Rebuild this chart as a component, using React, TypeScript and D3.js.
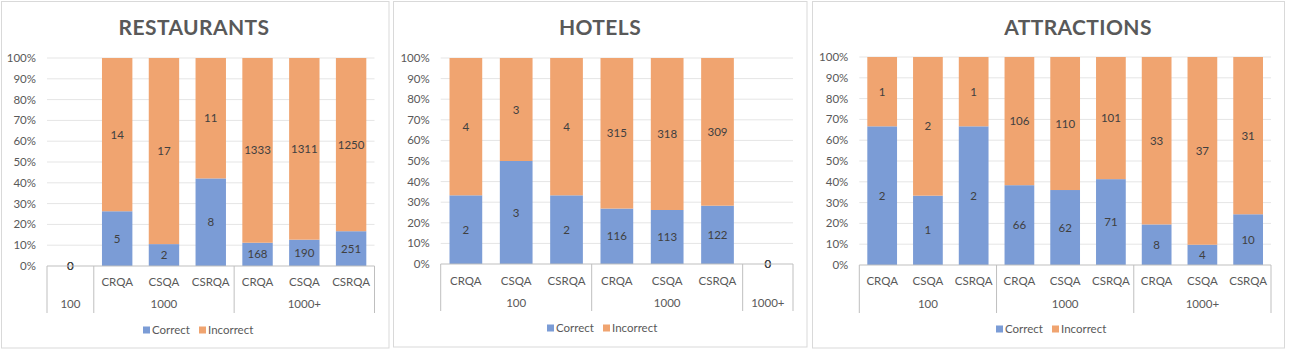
import React from 'react';
import * as d3 from 'd3';

// Restaurants
const restaurantGroup = ['100', '1000', '1000', '1000', '1000+', '1000+', '1000+'];
const restaurantMethod = ['', 'CRQA', 'CSQA', 'CSRQA', 'CRQA', 'CSQA', 'CSRQA'];
const restaurantCorrect = [0, 5, 2, 8, 168, 190, 251];
const restaurantIncorrect = [0, 14, 17, 11, 1333, 1311, 1250];

// Hotels
const hotelGroup = ['100', '100', '100', '1000', '1000', '1000', '1000+'];
const hotelMethod = ['CRQA', 'CSQA', 'CSRQA', 'CRQA', 'CSQA', 'CSRQA', ''];
const hotelCorrect = [2, 3, 2, 116, 113, 122, 0];
const hotelIncorrect = [4, 3, 4, 315, 318, 309, 0];

// Attractions
const attractionGroup = ['100', '100', '100', '1000', '1000', '1000', '1000+', '1000+', '1000+'];
const attractionMethod = ['CRQA', 'CSQA', 'CSRQA', 'CRQA', 'CSQA', 'CSRQA', 'CRQA', 'CSQA', 'CSRQA'];
const attractionCorrect = [2, 1, 2, 66, 62, 71, 8, 4, 10];
const attractionIncorrect = [1, 2, 1, 106, 110, 101, 33, 37, 31];

const yTicks = [0, 0.1, 0.2, 0.3, 0.4, 0.5, 0.6, 0.7, 0.8, 0.9, 1];
const seriesNames = ['Correct', 'Incorrect'];

const BLUE = '#7b9cd6';
const ORANGE = '#f0a470';
const FONT = 'Lato, "Open Sans", sans-serif';

const panels = [
  {
    title: 'RESTAURANTS', group: restaurantGroup, method: restaurantMethod,
    correct: restaurantCorrect, incorrect: restaurantIncorrect,
    frame: [1.5, 1.5, 389, 348], plot: [47, 374.5, 58, 266], titleX: 194,
    catY: 282, groupY: 304, divBottom: 313, legendY: 330, legendX: 143,
  },
  {
    title: 'HOTELS', group: hotelGroup, method: hotelMethod,
    correct: hotelCorrect, incorrect: hotelIncorrect,
    frame: [393.5, 1.5, 807, 347], plot: [440.7, 793, 58, 264], titleX: 600,
    catY: 281, groupY: 303, divBottom: 311, legendY: 328, legendX: 547,
  },
  {
    title: 'ATTRACTIONS', group: attractionGroup, method: attractionMethod,
    correct: attractionCorrect, incorrect: attractionIncorrect,
    frame: [812.5, 1.5, 1284.5, 348], plot: [859.3, 1271, 57, 265], titleX: 1078,
    catY: 281, groupY: 304, divBottom: 313, legendY: 329, legendX: 996,
  },
];

const Panel = ({ p }: { p: any }) => {
  const [x0, x1, yTop, yBot] = p.plot;
  const idx = p.method.map((_: string, i: number) => String(i));
  const x = d3.scaleBand().domain(idx).range([x0, x1]).paddingInner(0.35).paddingOuter(0.175);
  const y = d3.scaleLinear().domain([0, 1]).range([yBot, yTop]);
  const step = x.step();

  // group spans
  const groups: { name: string; start: number; end: number }[] = [];
  p.group.forEach((g: string, i: number) => {
    const last = groups[groups.length - 1];
    if (last && last.name === g) last.end = i;
    else groups.push({ name: g, start: i, end: i });
  });
  const bounds = [0, ...groups.map(g => g.end + 1)];

  const [fx0, fy0, fx1, fy1] = p.frame;

  return (
    <g>
      <rect x={fx0} y={fy0} width={fx1 - fx0} height={fy1 - fy0} fill="#fff" stroke="#d9d9d9" />
      <text x={p.titleX} y={35} textAnchor="middle" fontFamily={FONT} fontWeight="bold"
        fontSize={21} letterSpacing={0.4} fill="#595959">{p.title}</text>

      {yTicks.map(t => (
        <g key={t}>
          {t > 0 && <line x1={x0} x2={x1} y1={y(t)} y2={y(t)} stroke="#e5e5e5" />}
          <text x={x0 - 11} y={y(t)} dy="0.35em" textAnchor="end" fontFamily={FONT}
            fontSize={11.5} fill="#595959">{d3.format('.0%')(t)}</text>
        </g>
      ))}

      {p.correct.map((c: number, i: number) => {
        const inc = p.incorrect[i];
        const total = c + inc;
        const bx = x(String(i))!;
        const bw = x.bandwidth();
        const cx = bx + bw / 2;
        const fc = total ? c / total : 0;
        return (
          <g key={i}>
            {total > 0 && (
              <>
                <rect x={bx} y={y(fc)} width={bw} height={y(0) - y(fc)} fill={BLUE} />
                <rect x={bx} y={y(1)} width={bw} height={y(fc) - y(1)} fill={ORANGE} />
              </>
            )}
            <text x={cx} y={y(fc / 2)} dy="0.35em" textAnchor="middle" fontFamily={FONT}
              fontSize={11.5} fill="#404040">{c}</text>
            <text x={cx} y={y(total ? (fc + 1) / 2 : 0)} dy="0.35em" textAnchor="middle"
              fontFamily={FONT} fontSize={11.5} fill="#404040">{inc}</text>
            <text x={cx} y={p.catY} dy="0.35em" textAnchor="middle" fontFamily={FONT}
              fontSize={11.5} fill="#595959">{p.method[i]}</text>
          </g>
        );
      })}

      <line x1={x0} x2={x1} y1={yBot} y2={yBot} stroke="#bfbfbf" />
      {bounds.map(b => (
        <line key={b} x1={x0 + b * step} x2={x0 + b * step} y1={yBot} y2={p.divBottom} stroke="#bfbfbf" />
      ))}
      {groups.map(g => (
        <text key={g.name} x={x0 + ((g.start + g.end + 1) / 2) * step} y={p.groupY} dy="0.35em"
          textAnchor="middle" fontFamily={FONT} fontSize={11.5} fill="#595959">{g.name}</text>
      ))}

      {seriesNames.map((s, i) => (
        <g key={s} transform={`translate(${p.legendX + i * 56},${p.legendY})`}>
          <rect x={0} y={-3.5} width={7} height={7} fill={i === 0 ? BLUE : ORANGE} />
          <text x={9} y={0} dy="0.35em" fontFamily={FONT} fontSize={11.5} fill="#595959">{s}</text>
        </g>
      ))}
    </g>
  );
};

export default function App() {
  return (
    <svg width={1292} height={352} style={{ position: 'absolute', left: 0, top: 0, background: '#fff' }}>
      {panels.map(p => <Panel key={p.title} p={p} />)}
    </svg>
  );
}
